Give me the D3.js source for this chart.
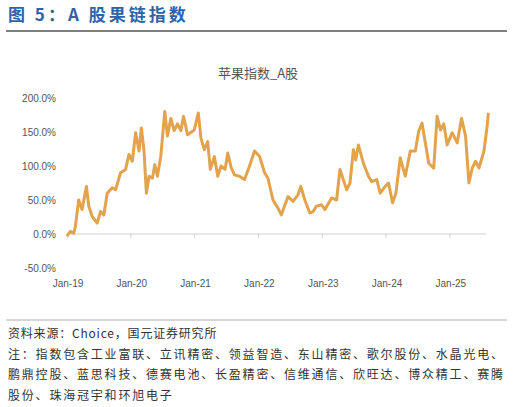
<!DOCTYPE html><html><head><meta charset="utf-8">
<script src="https://cdn.jsdelivr.net/npm/d3@7"></script>
<style>body{margin:0;background:#fff;font-family:"Noto Sans CJK SC",sans-serif}</style></head><body>
<svg id="c" width="513" height="407"></svg>
<script>
const zx=[200,210,220,225,235,245,258,265,275,290,300,310,320,335,345,360,375,385,395,405,415,422,430,437,445,455,462,470,480,492,500,510,520,530,540,548,560,580,592,600,610,620,628,640,650,660,672,680,690,700,715,730,745,760,775,790,800,815,830,840,850,860,875,890,898,910,925,935,945,960,970,990,1005,1015,1025,1035,1045,1055,1062,1070,1085,1100,1110,1125,1135,1150,1160,1172,1182,1195,1210,1225,1240,1250,1260,1270,1280,1295,1305,1315,1325,1335,1350,1365,1378,1390,1400,1410,1420,1430,1445,1455,1458];
const values=[-3,4,1,11,50,36,70,41,26,16,33,28,60,68,65,90,95,117,107,149,122,156,122,60,85,82,102,85,114,180,144,170,152,162,152,173,146,153,178,141,124,136,95,114,85,100,95,119,98,87,85,80,100,122,114,90,82,50,38,28,42,55,48,58,70,50,31,33,41,43,36,53,50,95,80,65,75,124,109,131,104,85,77,80,60,70,75,46,60,112,85,122,122,151,163,134,104,97,173,153,162,131,149,134,170,144,75,97,107,97,122,161,178];
const dates=zx.map(z=>2019+(z-200)/190.5);
const yTicks=[-50,0,50,100,150,200];
const xTicks=[2019,2020,2021,2022,2023,2024,2025];
const xLabels=["Jan-19","Jan-20","Jan-21","Jan-22","Jan-23","Jan-24","Jan-25"];
const notes=["资料来源：Choice，国元证券研究所","注：指数包含工业富联、立讯精密、领益智造、东山精密、歌尔股份、水晶光电、","鹏鼎控股、蓝思科技、德赛电池、长盈精密、信维通信、欣旺达、博众精工、赛腾","股份、珠海冠宇和环旭电子"];
const svg=d3.select("#c");
svg.append("text").attr("x",8).attr("y",21).attr("fill","#2f62a8").attr("font-size",17).attr("font-weight","bold").attr("letter-spacing",3).text("图 5：A 股果链指数");
svg.append("line").attr("x1",6).attr("x2",507).attr("y1",31).attr("y2",31).attr("stroke","#555").attr("stroke-width",1.5);
svg.append("text").attr("x",258).attr("y",78).attr("text-anchor","middle").attr("fill","#555").attr("font-size",13).text("苹果指数_A股");
const x=d3.scaleLinear().domain([2019,2025+(1458-1350)/190.5]).range([67,486]);
const y=d3.scaleLinear().domain([-50,200]).range([268,98]);
const g=svg.append("g");
yTicks.forEach(t=>g.append("text").attr("x",56).attr("y",y(t)+4).attr("text-anchor","end").attr("font-size",10).attr("fill","#555").attr("font-family","Liberation Sans, sans-serif").text(t.toFixed(1)+"%"));
g.append("line").attr("x1",67).attr("x2",486).attr("y1",y(0)).attr("y2",y(0)).attr("stroke","#d0d0d0");
xTicks.forEach((t,i)=>{g.append("line").attr("x1",x(t)).attr("x2",x(t)).attr("y1",y(0)).attr("y2",y(0)+4).attr("stroke","#d0d0d0");
g.append("text").attr("x",x(t)+1).attr("y",287).attr("text-anchor","middle").attr("font-size",10).attr("fill","#555").attr("font-family","Liberation Sans, sans-serif").text(xLabels[i]);});
g.append("path").datum(dates.map((d,i)=>[d,values[i]])).attr("fill","none").attr("stroke","#E3A24C").attr("stroke-width",3).attr("stroke-linejoin","round")
 .attr("d",d3.line().x(d=>x(d[0])).y(d=>y(d[1])));
svg.append("line").attr("x1",6).attr("x2",507).attr("y1",320).attr("y2",320).attr("stroke","#999").attr("stroke-width",0.8);
notes.forEach((n,i)=>svg.append("text").attr("x",8).attr("y",338+i*20.5).attr("font-size",12).attr("fill","#333").attr("letter-spacing",i==0?0.8:1.8).text(n));
</script></body></html>
